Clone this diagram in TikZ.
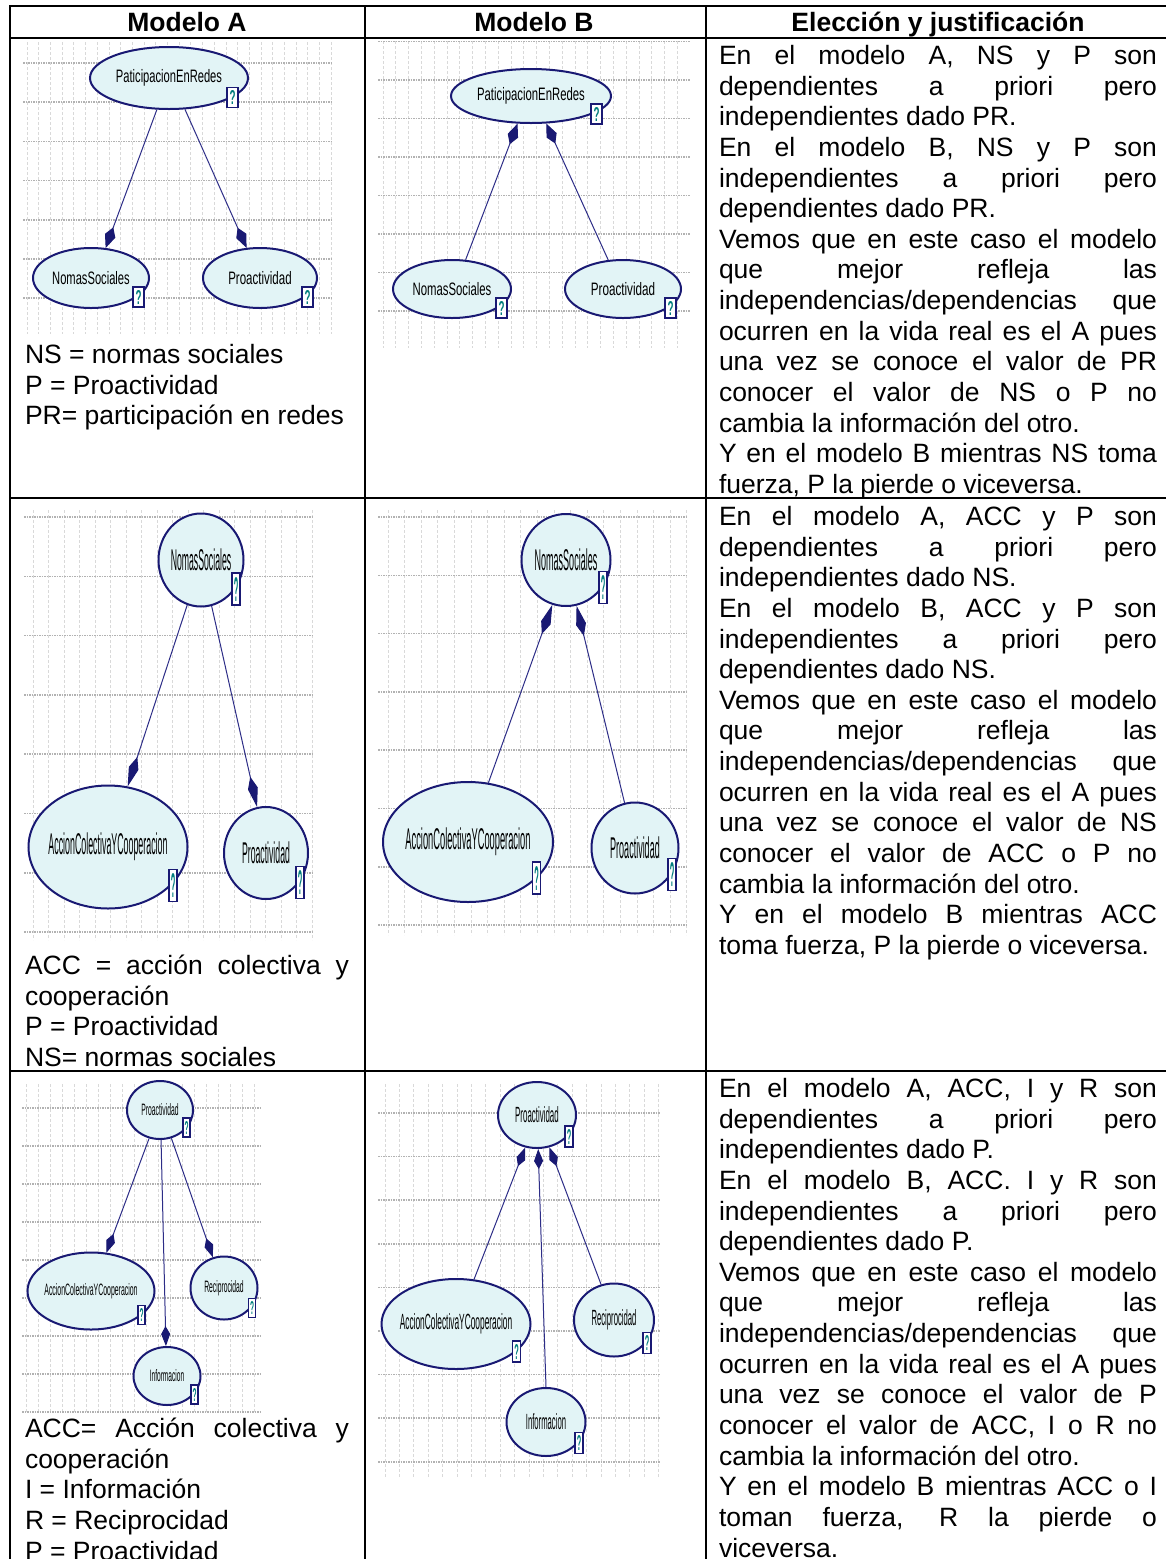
\documentclass[tikz,border=0pt]{standalone}
\usepackage{fontspec}
\setmainfont{Liberation Sans}
\usepackage{graphicx}
\usetikzlibrary{shapes.geometric,arrows.meta}
\definecolor{navy}{RGB}{25,25,115}
\definecolor{nfill}{RGB}{226,244,246}
\definecolor{ecol}{RGB}{45,45,135}
\definecolor{qteal}{RGB}{0,125,125}
\newcommand{\blab}[3]{\makebox[0pt]{\scalebox{#1}[1]{\fontsize{#2}{#2}\selectfont #3}}}
\newcommand{\qmk}[2]{\resizebox{#1pt}{#2pt}{\color{qteal}\bfseries ?}}
\newcommand{\jline}[1]{\makebox[\linewidth][s]{#1}}
\newcommand{\bggrid}[8]{%
  \foreach \x in {#5,#6,...,#2} \draw[gridv] (\x,#3) -- (\x,#4);
  \foreach \y in {#7,#8,...,#4} \draw[gridh] (#1,\y) -- (#2,\y);
}
\tikzset{
  gridv/.style={draw=black!15, dash pattern=on 3pt off 2pt, line width=0.7pt},
  gridh/.style={draw=black!30, dash pattern=on 1.5pt off 1pt, line width=1.6pt},
  tbl/.style={draw=black, line width=2pt},
  bn/.style={ellipse, draw=navy, fill=nfill, line width=2pt, inner sep=0pt, text=black},
  qb/.style={rectangle, draw=navy, fill=white, line width=1.3pt, inner sep=0pt},
  ed/.style={draw=ecol, line width=1pt},
  arA/.style={-{Kite[length=22pt,width=11pt,inset=9pt,color=navy]}},
  arB/.style={-{Kite[length=31pt,width=10pt,inset=12pt,color=navy]}},
  arC/.style={-{Kite[length=20pt,width=9pt,inset=8pt,color=navy]}},
  hdr/.style={anchor=base, inner sep=0pt, font=\bfseries\fontsize{26.5}{30.64}\selectfont},
  txt/.style={anchor=base west, inner sep=0pt, outer sep=0pt}
}
\begin{document}
\begin{tikzpicture}[x=1pt,y=-1pt,font=\fontsize{26.5}{30.64}\selectfont]
\useasboundingbox (0,0) rectangle (1166,1559);
\fill[white] (0,0) rectangle (1166,1559);

% ---------- grids ----------
\bggrid{23}{332}{42}{334}{27}{38.7}{63}{102.2}
\bggrid{378}{690}{41}{348}{383}{395.8}{41.5}{80}
\bggrid{24}{313}{510}{940}{33}{48.5}{517}{576.3}
\bggrid{378}{688}{510}{935}{388}{404.6}{517}{575.3}
\bggrid{22}{262}{1084}{1412}{26}{38}{1108}{1146}
\bggrid{378}{660}{1084}{1478}{385}{399.4}{1113}{1156.6}

% ---------- table ----------
\draw[tbl] (9,6) -- (1166,6);
\draw[tbl] (9,37.5) -- (1166,37.5);
\draw[tbl] (10,5) -- (10,1559);
\draw[tbl] (364.5,5) -- (364.5,1559);
\draw[tbl] (705.5,5) -- (705.5,1559);
\draw[tbl] (9,498) -- (1166,498);
\draw[tbl] (9,1071) -- (1166,1071);

\node[hdr] (hA) at (187,31.5) {Modelo A};
\node[hdr] (hB) at (534,31.5) {Modelo B};
\node[hdr] (hC) at (938,31.5) {Elección y justificación};

% ---------- row 1, model A ----------
\node[bn, minimum width=158, minimum height=62] (pr1a) at (169,78) {\blab{0.62}{18}{PaticipacionEnRedes}};
\node[bn, minimum width=116, minimum height=60] (ns1a) at (91,278) {\blab{0.62}{18}{NomasSociales}};
\node[bn, minimum width=114, minimum height=60] (pa1a) at (260,278) {\blab{0.64}{18}{Proactividad}};
\node[qb, minimum width=11, minimum height=20] (q1a1) at (232.5,97.5) {\qmk{6}{14}};
\node[qb, minimum width=11, minimum height=20] (q1a2) at (138.5,297) {\qmk{6}{14}};
\node[qb, minimum width=11, minimum height=20] (q1a3) at (307.5,297) {\qmk{6}{14}};
\draw[ed,arA] (pr1a.249) -- (ns1a.64);
\draw[ed,arA] (pr1a.297) -- (pa1a.114);

% ---------- row 1, model B ----------
\node[bn, minimum width=160, minimum height=54] (pr1b) at (531,96) {\blab{0.63}{18}{PaticipacionEnRedes}};
\node[bn, minimum width=118, minimum height=58] (ns1b) at (452,289) {\blab{0.63}{18}{NomasSociales}};
\node[bn, minimum width=116, minimum height=58] (pa1b) at (623,289) {\blab{0.65}{18}{Proactividad}};
\node[qb, minimum width=11, minimum height=20] (q1b1) at (596.5,114) {\qmk{6}{14}};
\node[qb, minimum width=11, minimum height=20] (q1b2) at (501.5,308) {\qmk{6}{14}};
\node[qb, minimum width=11, minimum height=20] (q1b3) at (670.5,308) {\qmk{6}{14}};
\draw[ed,arA] (ns1b.65) -- (pr1b.244);
\draw[ed,arA] (pa1b.117) -- (pr1b.299);

% ---------- row 2, model A ----------
\node[bn, minimum width=85, minimum height=93] (ns2a) at (201,560) {\blab{0.29}{30}{NomasSociales}};
\node[bn, minimum width=159, minimum height=123] (acc2a) at (108,847) {\blab{0.295}{30}{AccionColectivaYCooperacion}};
\node[bn, minimum width=84, minimum height=92] (pa2a) at (266,853) {\blab{0.29}{30}{Proactividad}};
\node[qb, minimum width=8, minimum height=32] (q2a1) at (236,589) {\qmk{4.5}{24}};
\node[qb, minimum width=8, minimum height=32] (q2a2) at (173,885.5) {\qmk{4.5}{24}};
\node[qb, minimum width=8, minimum height=32] (q2a3) at (300,882.5) {\qmk{4.5}{24}};
\draw[ed,arB] (ns2a.253) -- (acc2a.72);
\draw[ed,arB] (ns2a.283) -- (pa2a.101);

% ---------- row 2, model B ----------
\node[bn, minimum width=89, minimum height=92] (ns2b) at (566,560) {\blab{0.30}{30}{NomasSociales}};
\node[bn, minimum width=170, minimum height=120] (acc2b) at (468,842) {\blab{0.31}{30}{AccionColectivaYCooperacion}};
\node[bn, minimum width=87, minimum height=91] (pa2b) at (635,848) {\blab{0.30}{30}{Proactividad}};
\node[qb, minimum width=8, minimum height=32] (q2b1) at (603,587.5) {\qmk{4.5}{24}};
\node[qb, minimum width=8, minimum height=32] (q2b2) at (536.5,878) {\qmk{4.5}{24}};
\node[qb, minimum width=8, minimum height=32] (q2b3) at (672,874.5) {\qmk{4.5}{24}};
\draw[ed,arB] (acc2b.71) -- (ns2b.253);
\draw[ed,arB] (pa2b.103) -- (ns2b.283);

% ---------- row 3, model A ----------
\node[bn, minimum width=66, minimum height=58] (pa3a) at (160,1110) {\blab{0.41}{16.5}{Proactividad}};
\node[bn, minimum width=127, minimum height=77] (acc3a) at (91,1291) {\blab{0.42}{16.5}{AccionColectivaYCooperacion}};
\node[bn, minimum width=67, minimum height=63] (re3a) at (224,1288) {\blab{0.41}{16.5}{Reciprocidad}};
\node[bn, minimum width=67, minimum height=58] (in3a) at (167,1376) {\blab{0.40}{16.5}{Informacion}};
\node[qb, minimum width=7, minimum height=19] (q3a1) at (186.5,1127.5) {\qmk{4}{13}};
\node[qb, minimum width=7, minimum height=19] (q3a2) at (141.5,1315) {\qmk{4}{13}};
\node[qb, minimum width=7, minimum height=19] (q3a3) at (252,1308) {\qmk{4}{13}};
\node[qb, minimum width=7, minimum height=19] (q3a4) at (194.5,1394.5) {\qmk{4}{13}};
\draw[ed,arC] (pa3a.249) -- (acc3a.68);
\draw[ed,arC] (pa3a.272) -- (in3a.92);
\draw[ed,arC] (pa3a.292) -- (re3a.110);

% ---------- row 3, model B ----------
\node[bn, minimum width=78, minimum height=66] (pa3b) at (537,1115) {\blab{0.36}{22}{Proactividad}};
\node[bn, minimum width=149, minimum height=90] (acc3b) at (456,1324) {\blab{0.38}{22}{AccionColectivaYCooperacion}};
\node[bn, minimum width=80, minimum height=73] (re3b) at (614,1320) {\blab{0.35}{22}{Reciprocidad}};
\node[bn, minimum width=79, minimum height=68] (in3b) at (546,1422) {\blab{0.35}{22}{Informacion}};
\node[qb, minimum width=8, minimum height=21] (q3b1) at (569,1136.5) {\qmk{4.5}{15}};
\node[qb, minimum width=8, minimum height=21] (q3b2) at (516.5,1351.5) {\qmk{4.5}{15}};
\node[qb, minimum width=8, minimum height=21] (q3b3) at (647,1343) {\qmk{4.5}{15}};
\node[qb, minimum width=8, minimum height=21] (q3b4) at (579,1443) {\qmk{4.5}{15}};
\draw[ed,arC] (acc3b.68) -- (pa3b.250);
\draw[ed,arC] (in3b.90) -- (pa3b.272);
\draw[ed,arC] (re3b.110) -- (pa3b.291);

% ---------- column A legends ----------
\node[txt] (la1) at (25,363.5) {\parbox[t]{324pt}{\lineskiplimit=-20pt
NS = normas sociales\\
P = Proactividad\\
PR= participación en redes}};
\node[txt] (la2) at (25,974.5) {\parbox[t]{324pt}{\lineskiplimit=-20pt
\jline{ACC = acción colectiva y}\\
cooperación\\
P = Proactividad\\
NS= normas sociales}};
\node[txt] (la3) at (25,1437.5) {\parbox[t]{324pt}{\lineskiplimit=-20pt
\jline{ACC= Acción colectiva y}\\
cooperación\\
I = Información\\
R = Reciprocidad\\
P = Proactividad}};

% ---------- column C text ----------
\node[txt] (c1) at (719,64.5) {\parbox[t]{438pt}{\lineskiplimit=-20pt
\jline{En el modelo A, NS y P son}\\
\jline{dependientes a priori pero}\\
independientes dado PR.\\
\jline{En el modelo B, NS y P son}\\
\jline{independientes a priori pero}\\
dependientes dado PR.\\
\jline{Vemos que en este caso el modelo}\\
\jline{que mejor refleja las}\\
\jline{independencias/dependencias que}\\
\jline{ocurren en la vida real es el A pues}\\
\jline{una vez se conoce el valor de PR}\\
\jline{conocer el valor de NS o P no}\\
cambia la información del otro.\\
\jline{Y en el modelo B mientras NS toma}\\
fuerza, P la pierde o viceversa.}};
\node[txt] (c2) at (719,525.5) {\parbox[t]{438pt}{\lineskiplimit=-20pt
\jline{En el modelo A, ACC y P son}\\
\jline{dependientes a priori pero}\\
independientes dado NS.\\
\jline{En el modelo B, ACC y P son}\\
\jline{independientes a priori pero}\\
dependientes dado NS.\\
\jline{Vemos que en este caso el modelo}\\
\jline{que mejor refleja las}\\
\jline{independencias/dependencias que}\\
\jline{ocurren en la vida real es el A pues}\\
\jline{una vez se conoce el valor de NS}\\
\jline{conocer el valor de ACC o P no}\\
cambia la información del otro.\\
\jline{Y en el modelo B mientras ACC}\\
toma fuerza, P la pierde o viceversa.}};
\node[txt] (c3) at (719,1097.5) {\parbox[t]{438pt}{\lineskiplimit=-20pt
\jline{En el modelo A, ACC, I y R son}\\
\jline{dependientes a priori pero}\\
independientes dado P.\\
\jline{En el modelo B, ACC. I y R son}\\
\jline{independientes a priori pero}\\
dependientes dado P.\\
\jline{Vemos que en este caso el modelo}\\
\jline{que mejor refleja las}\\
\jline{independencias/dependencias que}\\
\jline{ocurren en la vida real es el A pues}\\
\jline{una vez se conoce el valor de P}\\
\jline{conocer el valor de ACC, I o R no}\\
cambia la información del otro.\\
\jline{Y en el modelo B mientras ACC o I}\\
\jline{toman fuerza, R la pierde o}\\
viceversa.}};
\end{tikzpicture}
\end{document}
